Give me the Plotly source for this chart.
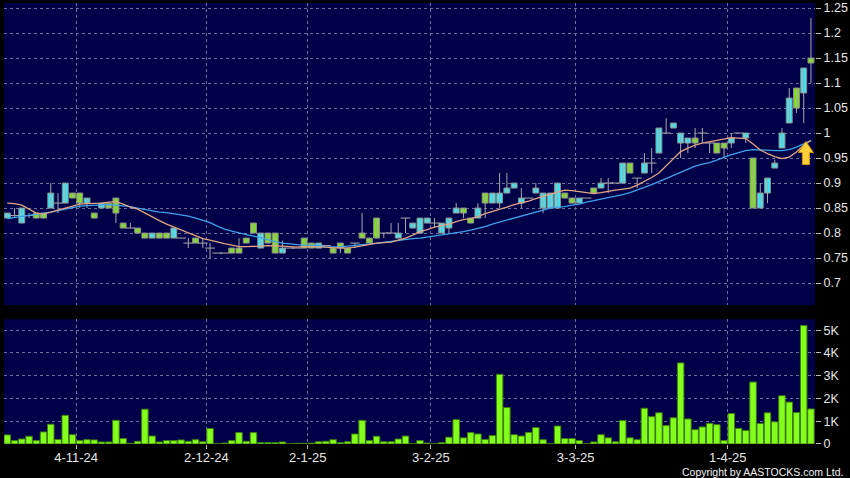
import plotly.graph_objects as go

tick_pos = [9.5, 27.5, 41.5, 58.5, 78.5, 99.5]
tick_text = ["4-11-24", "2-12-24", "2-1-25", "3-2-25", "3-3-25", "1-4-25"]

price_ticks = [0.7, 0.75, 0.8, 0.85, 0.9, 0.95, 1.0, 1.05, 1.1, 1.15, 1.2, 1.25]
price_tick_text = ["0.7", "0.75", "0.8", "0.85", "0.9", "0.95", "1", "1.05", "1.1", "1.15", "1.2", "1.25"]
vol_ticks = [0, 1, 2, 3, 4, 5]
vol_tick_text = ["0", "1K", "2K", "3K", "4K", "5K"]

open_ = [0.83, 0.835, 0.82, 0.835, 0.84, 0.84, 0.85, 0.86, 0.86, 0.88,
         0.88, 0.86, 0.84, 0.85, 0.86, 0.87, 0.82, 0.81, 0.81, 0.80,
         0.79, 0.80, 0.80, 0.79, 0.79, 0.78, 0.79, 0.78, 0.77, 0.76,
         0.76, 0.77, 0.77, 0.79, 0.82, 0.77, 0.80, 0.80, 0.76, 0.77,
         0.77, 0.79, 0.78, 0.77, 0.775, 0.77, 0.78, 0.77, 0.78, 0.80,
         0.79, 0.83, 0.80, 0.80, 0.79, 0.83, 0.81, 0.80, 0.82, 0.82,
         0.80, 0.81, 0.84, 0.85, 0.83, 0.83, 0.88, 0.86, 0.86, 0.88,
         0.89, 0.86, 0.87, 0.88, 0.85, 0.85, 0.85, 0.88, 0.87, 0.86,
         0.87, 0.89, 0.89, 0.90, 0.90, 0.90, 0.94, 0.91, 0.92, 0.94,
         0.96, 1.00, 1.01, 0.98, 0.98, 0.99, 1.00, 0.98, 0.98, 0.98,
         0.98, 1.00, 0.99, 0.95, 0.85, 0.88, 0.93, 0.97, 1.02, 1.09,
         1.08, 1.15]
high = [0.84, 0.85, 0.85, 0.84, 0.84, 0.84, 0.90, 0.88, 0.90, 0.88,
        0.88, 0.87, 0.84, 0.86, 0.86, 0.87, 0.82, 0.82, 0.81, 0.80,
        0.80, 0.80, 0.80, 0.81, 0.79, 0.79, 0.79, 0.79, 0.78, 0.76,
        0.76, 0.77, 0.79, 0.79, 0.82, 0.80, 0.80, 0.80, 0.785, 0.77,
        0.77, 0.79, 0.78, 0.78, 0.775, 0.77, 0.78, 0.77, 0.78, 0.84,
        0.79, 0.83, 0.80, 0.82, 0.82, 0.83, 0.82, 0.83, 0.83, 0.83,
        0.82, 0.83, 0.86, 0.85, 0.83, 0.86, 0.88, 0.88, 0.92, 0.92,
        0.90, 0.89, 0.87, 0.90, 0.88, 0.88, 0.90, 0.88, 0.87, 0.87,
        0.87, 0.89, 0.91, 0.91, 0.90, 0.94, 0.94, 0.91, 0.96, 0.97,
        1.01, 1.03, 1.02, 1.00, 0.99, 1.01, 1.01, 0.98, 0.98, 0.98,
        1.00, 1.00, 1.00, 0.95, 0.90, 0.91, 0.947, 1.01, 1.09, 1.09,
        1.13, 1.23]
low = [0.83, 0.83, 0.82, 0.83, 0.83, 0.83, 0.85, 0.84, 0.86, 0.87,
       0.85, 0.85, 0.83, 0.85, 0.85, 0.82, 0.81, 0.81, 0.80, 0.79,
       0.79, 0.79, 0.79, 0.79, 0.79, 0.77, 0.78, 0.77, 0.75, 0.76,
       0.76, 0.76, 0.76, 0.78, 0.80, 0.77, 0.78, 0.76, 0.76, 0.77,
       0.77, 0.77, 0.77, 0.77, 0.775, 0.76, 0.76, 0.76, 0.77, 0.79,
       0.78, 0.79, 0.79, 0.80, 0.79, 0.80, 0.81, 0.80, 0.82, 0.81,
       0.80, 0.80, 0.84, 0.83, 0.82, 0.83, 0.83, 0.86, 0.85, 0.88,
       0.89, 0.85, 0.87, 0.88, 0.84, 0.85, 0.85, 0.87, 0.86, 0.86,
       0.87, 0.88, 0.89, 0.88, 0.90, 0.90, 0.92, 0.89, 0.92, 0.92,
       0.96, 1.00, 1.01, 0.95, 0.96, 0.97, 0.98, 0.96, 0.96, 0.95,
       0.97, 1.00, 0.98, 0.85, 0.85, 0.86, 0.93, 0.97, 1.02, 1.04,
       1.02, 1.10]
close = [0.84, 0.835, 0.85, 0.835, 0.83, 0.83, 0.88, 0.86, 0.90, 0.87,
         0.86, 0.87, 0.83, 0.86, 0.85, 0.84, 0.81, 0.81, 0.80, 0.79,
         0.80, 0.79, 0.79, 0.81, 0.79, 0.78, 0.78, 0.78, 0.77, 0.76,
         0.76, 0.76, 0.76, 0.78, 0.80, 0.80, 0.78, 0.76, 0.77, 0.77,
         0.77, 0.77, 0.77, 0.78, 0.775, 0.76, 0.77, 0.76, 0.78, 0.79,
         0.78, 0.79, 0.80, 0.80, 0.80, 0.83, 0.82, 0.83, 0.83, 0.82,
         0.82, 0.83, 0.85, 0.84, 0.82, 0.85, 0.86, 0.88, 0.88, 0.89,
         0.90, 0.87, 0.87, 0.89, 0.88, 0.88, 0.90, 0.87, 0.86, 0.87,
         0.87, 0.88, 0.90, 0.90, 0.90, 0.94, 0.92, 0.91, 0.94, 0.94,
         1.01, 1.00, 1.02, 1.00, 0.99, 0.98, 1.00, 0.98, 0.96, 0.97,
         0.99, 1.00, 1.00, 0.85, 0.88, 0.91, 0.94, 1.00, 1.07, 1.05,
         1.13, 1.14]

ma_short = [0.860, 0.859, 0.856, 0.848, 0.840, 0.838, 0.842, 0.846, 0.851, 0.855,
            0.858, 0.859, 0.859, 0.860, 0.862, 0.863, 0.858, 0.852, 0.848, 0.840,
            0.832, 0.825, 0.818, 0.812, 0.806, 0.800, 0.795, 0.789, 0.786, 0.782,
            0.779, 0.776, 0.773, 0.773, 0.773, 0.774, 0.775, 0.775, 0.774, 0.773,
            0.772, 0.773, 0.773, 0.773, 0.772, 0.771, 0.770, 0.770, 0.772, 0.775,
            0.778, 0.780, 0.781, 0.782, 0.786, 0.790, 0.796, 0.803, 0.807, 0.812,
            0.815, 0.818, 0.823, 0.827, 0.829, 0.833, 0.839, 0.843, 0.847, 0.852,
            0.857, 0.860, 0.864, 0.869, 0.874, 0.878, 0.882, 0.886, 0.885, 0.883,
            0.881, 0.879, 0.881, 0.884, 0.886, 0.888, 0.890, 0.896, 0.903, 0.911,
            0.920, 0.934, 0.947, 0.963, 0.970, 0.976, 0.980, 0.983, 0.986, 0.989,
            0.991, 0.990, 0.989, 0.978, 0.966, 0.959, 0.953, 0.949, 0.952, 0.962,
            0.976, 0.985]
ma_long = [0.829, 0.831, 0.833, 0.835, 0.838, 0.840, 0.842, 0.845, 0.848, 0.851,
           0.854, 0.855, 0.856, 0.857, 0.857, 0.856, 0.855, 0.853, 0.850, 0.847,
           0.844, 0.842, 0.841, 0.839, 0.837, 0.834, 0.830, 0.826, 0.821, 0.814,
           0.808, 0.804, 0.800, 0.797, 0.794, 0.790, 0.787, 0.783, 0.780, 0.778,
           0.777, 0.776, 0.776, 0.775, 0.772, 0.772, 0.773, 0.774, 0.776, 0.777,
           0.778, 0.780, 0.781, 0.783, 0.785, 0.787, 0.789, 0.790, 0.792, 0.794,
           0.796, 0.798, 0.800, 0.803, 0.806, 0.809, 0.813, 0.818, 0.822, 0.826,
           0.830, 0.835, 0.838, 0.842, 0.847, 0.850, 0.852, 0.853, 0.856, 0.858,
           0.862, 0.865, 0.867, 0.870, 0.874, 0.877, 0.881, 0.886, 0.891, 0.897,
           0.903, 0.909, 0.915, 0.922, 0.928, 0.934, 0.938, 0.941, 0.946, 0.952,
           0.957, 0.961, 0.965, 0.967, 0.966, 0.965, 0.965, 0.965, 0.967, 0.972,
           0.979, 0.985]

volume_k = [0.40, 0.15, 0.22, 0.34, 0.15, 0.53, 0.87, 0.20, 1.26, 0.41,
            0.15, 0.19, 0.18, 0.09, 0.09, 1.04, 0.24, 0.03, 0.12, 1.53,
            0.35, 0.09, 0.15, 0.15, 0.18, 0.12, 0.19, 0.10, 0.68, 0.01,
            0.04, 0.15, 0.50, 0.12, 0.50, 0.06, 0.06, 0.06, 0.09, 0.01,
            0.03, 0.03, 0.04, 0.10, 0.12, 0.19, 0.06, 0.10, 0.44, 1.04,
            0.15, 0.34, 0.10, 0.10, 0.22, 0.35, 0.01, 0.15, 0.04, 0.01,
            0.06, 0.30, 1.07, 0.27, 0.50, 0.44, 0.20, 0.37, 3.06, 1.60,
            0.41, 0.35, 0.51, 0.72, 0.19, 0.01, 0.79, 0.24, 0.24, 0.15,
            0.01, 0.09, 0.41, 0.27, 0.10, 1.03, 0.27, 0.19, 1.57, 1.20,
            1.37, 0.81, 1.15, 3.56, 1.10, 0.63, 0.75, 0.91, 0.85, 0.15,
            1.34, 0.69, 0.59, 2.72, 0.90, 1.37, 0.97, 2.12, 1.84, 1.38,
            5.20, 1.54]

n = len(close)
idx = list(range(n))

CYAN = "#3fe6f2"
GREEN = "#7fe022"
VOL_GREEN = "#84ff1c"
EDGE = "#8c8c8c"
WICK = "#a8a8a8"
BG = "#000048"
GRID = "#6e6e9e"
TXT = "#e6e6e6"
FONT = "Liberation Sans"
BOX_W = 0.82

# split candles into up / down / flat groups from the OHLC lists
up_x, up_base, up_h = [], [], []
dn_x, dn_base, dn_h = [], [], []
flat_x, flat_y = [], []
wick_x, wick_y = [], []
for i in idx:
    o, h, l, c = open_[i], high[i], low[i], close[i]
    wick_x += [i, i, None]
    wick_y += [l, h, None]
    if c > o:
        up_x.append(i); up_base.append(o); up_h.append(c - o)
    elif c < o:
        dn_x.append(i); dn_base.append(c); dn_h.append(o - c)
    else:
        flat_x.append(i); flat_y.append(c)

fig = go.Figure()

fig.add_trace(go.Scatter(x=wick_x, y=wick_y, mode="lines",
                         line=dict(color=WICK, width=1),
                         xaxis="x", yaxis="y", hoverinfo="skip"))
fig.add_trace(go.Scatter(x=flat_x, y=flat_y, mode="markers",
                         marker=dict(symbol="line-ew", size=7,
                                     line=dict(color=WICK, width=1)),
                         xaxis="x", yaxis="y", hoverinfo="skip"))
fig.add_trace(go.Bar(x=up_x, y=up_h, base=up_base, width=BOX_W,
                     marker=dict(color=CYAN, line=dict(color=EDGE, width=1)),
                     xaxis="x", yaxis="y"))
fig.add_trace(go.Bar(x=dn_x, y=dn_h, base=dn_base, width=BOX_W,
                     marker=dict(color=GREEN, line=dict(color=EDGE, width=1)),
                     xaxis="x", yaxis="y"))

fig.add_trace(go.Scatter(x=idx, y=ma_long, mode="lines",
                         line=dict(color="#3fa2ea", width=1.3),
                         xaxis="x", yaxis="y", hoverinfo="skip"))
fig.add_trace(go.Scatter(x=idx, y=ma_short, mode="lines",
                         line=dict(color="#e2a383", width=1.3),
                         xaxis="x", yaxis="y", hoverinfo="skip"))

fig.add_trace(go.Bar(x=idx, y=volume_k, width=0.9,
                     marker=dict(color=VOL_GREEN, line=dict(color="#3f7d12", width=1)),
                     xaxis="x2", yaxis="y2"))

# breakout arrow marker near the last bars
fig.add_shape(type="path", xref="x", yref="y",
              xsizemode="pixel", ysizemode="pixel",
              xanchor=n - 1.7, yanchor=0.959,
              path="M 0 12 L 7.5 1 L 3.5 1 L 3.5 -11 L -3.5 -11 L -3.5 1 L -7.5 1 Z",
              fillcolor="#fbd03a", line=dict(color="#d09a10", width=1))

xr = [-0.46, 111.56]
common_x = dict(range=xr, tickmode="array", tickvals=tick_pos,
                showgrid=True, gridcolor=GRID, griddash="3px,3px", gridwidth=1,
                zeroline=False, showline=False, fixedrange=True, automargin=False)

fig.update_layout(
    width=850, height=478,
    margin=dict(l=4, r=35, t=3, b=34, pad=0),
    paper_bgcolor="black", plot_bgcolor=BG,
    showlegend=False, barmode="overlay", hovermode=False,
    font=dict(family=FONT, color=TXT, size=12),
    xaxis=dict(domain=[0, 1], anchor="y", showticklabels=False, ticks="", **common_x),
    xaxis2=dict(domain=[0, 1], anchor="y2", ticktext=tick_text,
                ticks="outside", ticklen=4, tickcolor="#bbbbbb", ticklabelstandoff=-3,
                tickfont=dict(size=13, color=TXT, family=FONT), **common_x),
    yaxis=dict(domain=[0.315, 1.0], range=[0.656, 1.26], side="right",
               tickmode="array", tickvals=price_ticks, ticktext=price_tick_text,
               ticks="outside", ticklen=5, tickcolor="#bbbbbb", automargin=False,
               showgrid=True, gridcolor=GRID, griddash="3px,3px", fixedrange=True,
               zeroline=False, tickfont=dict(size=12.5, color=TXT, family=FONT)),
    yaxis2=dict(domain=[0, 0.283], range=[0, 5.48], side="right",
                tickmode="array", tickvals=vol_ticks, ticktext=vol_tick_text,
                ticks="outside", ticklen=5, tickcolor="#bbbbbb", automargin=False,
                showgrid=True, gridcolor=GRID, griddash="3px,3px", fixedrange=True,
                zeroline=False, tickfont=dict(size=12.5, color=TXT, family=FONT)),
)

fig.add_annotation(text="Copyright by AASTOCKS.com Ltd.", xref="paper", yref="paper",
                   x=1.037, y=-0.0625, xanchor="right", yanchor="middle",
                   showarrow=False, font=dict(size=10.5, color="#f0f0f0", family=FONT))

fig.write_html("out.html", config={"displayModeBar": False, "staticPlot": True},
               post_script="document.body.style.margin='0';document.body.style.overflow='hidden';")
